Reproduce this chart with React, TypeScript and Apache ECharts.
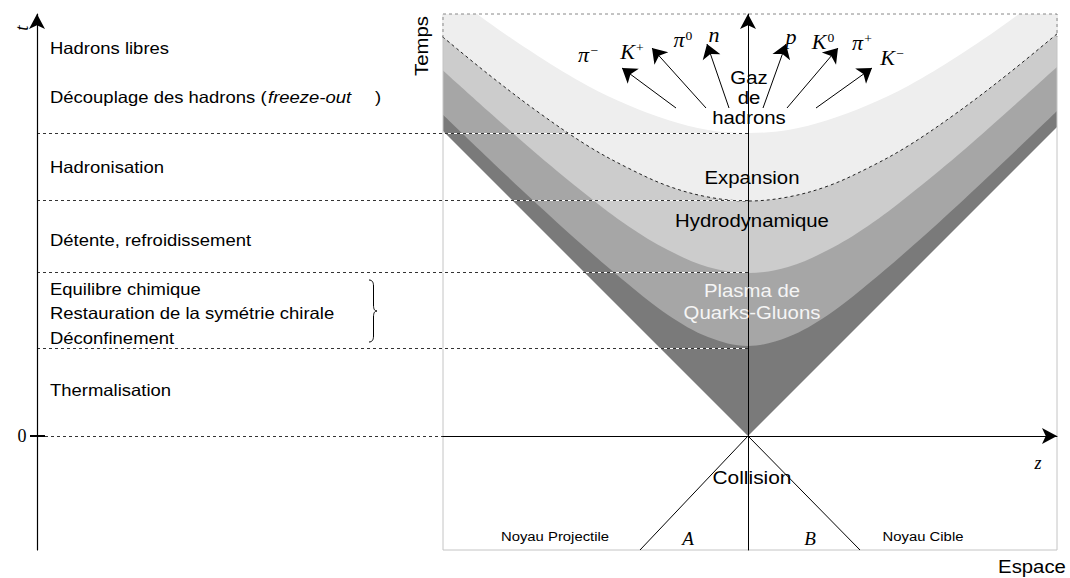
import React, { useEffect, useRef } from "react";
import * as echarts from "echarts";

// ---- data (z: space, t: time; arbitrary units) ----
const zSamples = [-3.1, -2.6, -2.1, -1.6, -1.2, -0.8, -0.4, 0, 0.4, 0.8, 1.2, 1.6, 2.1, 2.6, 3.1];
const tQGP = [3.26, 2.78, 2.31, 1.86, 1.52, 1.21, 0.99, 0.9, 0.99, 1.21, 1.52, 1.86, 2.31, 2.78, 3.26];
const tHydro = [3.7, 3.25, 2.81, 2.4, 2.1, 1.86, 1.69, 1.63, 1.69, 1.86, 2.1, 2.4, 2.81, 3.25, 3.7];
const tExpansion = [4.03, 3.62, 3.24, 2.9, 2.68, 2.5, 2.39, 2.35, 2.39, 2.5, 2.68, 2.9, 3.24, 3.62, 4.03];
const tFreeGas = [4.52, 4.14, 3.8, 3.5, 3.31, 3.16, 3.06, 3.03, 3.06, 3.16, 3.31, 3.5, 3.8, 4.14, 4.52];
const coneZ = [-3.1, 0, 3.1];
const coneT = [3.1, 0, 3.1];
const phaseBoundaries = [3.03, 2.36, 1.64, 0.88];
const nucleusA = [[-1.08, -1.14], [0, 0]];
const nucleusB = [[1.12, -1.14], [0, 0]];
const particleArrows = [
  [[-0.72, 3.28], [-1.26, 3.68]],
  [[-0.42, 3.28], [-0.96, 3.88]],
  [[-0.19, 3.28], [-0.41, 3.92]],
  [[0.15, 3.28], [0.38, 3.92]],
  [[0.39, 3.28], [0.9, 3.88]],
  [[0.68, 3.28], [1.24, 3.68]],
];
// particle symbol and its superscript charge
const particleBase = ["π", "K", "π", "n", "p", "K", "π", "K"];
const particleCharge = ["−", "+", "0", "", "", "0", "+", "−"];
const phaseLabels = [
  "Hadrons libres",
  "Découplage des hadrons",
  "Hadronisation",
  "Détente, refroidissement",
  "Equilibre chimique",
  "Restauration de la symétrie chirale",
  "Déconfinement",
  "Thermalisation",
];
const regionLabels = ["Expansion", "Hydrodynamique", "Plasma de", "Quarks-Gluons", "Collision"];

// ---- axis extents ----
const T_MIN = -1.14;
const T_MAX = 4.22;
const Z_MIN = -3.05;
const Z_MAX = 3.09;
const LEFT_Z_MIN = -7.11;

const SANS = "'Liberation Sans', Arial, Helvetica, sans-serif";
const SERIF = "'Liberation Serif', 'DejaVu Serif', 'Times New Roman', serif";

echarts.graphic.registerShape(
  "brace",
  echarts.graphic.extendPath(
    "M0,0 C3,0 4.5,2 4.5,6 L4.5,25 C4.5,29 5.5,31 8,31 C5.5,31 4.5,33 4.5,37 L4.5,56 C4.5,60 3,62 0,62",
    {}
  )
);

type TO = { sx?: number; rot?: number; color?: string; ff?: string; fs?: number; it?: boolean; align?: string };
const T = (text: string, x: number, y: number, o: TO = {}) => ({
  type: "text",
  x,
  y,
  z: 100,
  silent: true,
  scaleX: o.sx ?? 1.12,
  rotation: o.rot ?? 0,
  style: {
    text,
    fill: o.color ?? "#000",
    fontFamily: o.ff ?? SANS,
    fontSize: o.fs ?? 16.5,
    fontStyle: o.it ? "italic" : "normal",
    align: o.align ?? "left",
    verticalAlign: "middle",
  },
});

const P = (base: string, sup: string, x: number, y: number) => ({
  type: "text",
  x,
  y,
  z: 100,
  silent: true,
  scaleX: 1.05,
  style: {
    text: sup ? `{b|${base}}{s|${sup}}` : `{b|${base}}`,
    align: "center",
    verticalAlign: "middle",
    fill: "#000",
    rich: {
      b: { fontFamily: SERIF, fontStyle: "italic", fontSize: 21, fill: "#000", verticalAlign: "bottom" },
      s: { fontFamily: SERIF, fontSize: 13, fill: "#000", verticalAlign: "top", padding: [0, 0, 0, 1] },
    },
  },
});

export default function App() {
  const ref = useRef<HTMLDivElement>(null);
  useEffect(() => {
    if (!ref.current) return;
    const chart = echarts.init(ref.current, undefined, { renderer: "svg" });

    const fillSeries = (ts: number[], color: string, extra: any = {}) => ({
      type: "line",
      xAxisIndex: 1,
      yAxisIndex: 2,
      data: zSamples.map((z, i) => [z, ts[i]]),
      smooth: 0.35,
      symbol: "none",
      silent: true,
      lineStyle: { width: 0, opacity: 0 },
      areaStyle: { color, opacity: 1, origin: "end" },
      z: 2,
      ...extra,
    });

    const particlePos = [
      [588, 55], [632, 52], [683, 40], [714, 35], [791, 37], [823, 42], [862, 43], [892, 58],
    ];

    const graphics: any[] = [
      T(phaseLabels[0], 50, 48),
      T(phaseLabels[1] + " (", 50, 97),
      T("freeze-out", 268, 97, { it: true }),
      T(")", 375, 97),
      T(phaseLabels[2], 50, 167),
      T(phaseLabels[3], 50, 240),
      T(phaseLabels[4], 50, 289),
      T(phaseLabels[5], 50, 313),
      T(phaseLabels[6], 50, 338),
      T(phaseLabels[7], 50, 390),
      { type: "brace", x: 369, y: 280, z: 100, silent: true, style: { stroke: "#000", fill: null, lineWidth: 1 } },
      T("t", 21, 28, { ff: SERIF, it: true, fs: 19, rot: Math.PI / 2, align: "center", sx: 1 }),
      T("0", 22, 436, { ff: SERIF, fs: 18, align: "center", sx: 1 }),
      T("Temps", 421, 46, { fs: 18.5, rot: Math.PI / 2, align: "center", sx: 1.1 }),
      T("Gaz", 749, 77, { fs: 18.5, align: "center", sx: 1.1 }),
      T("de", 749, 97, { fs: 18.5, align: "center", sx: 1.1 }),
      T("hadrons", 749, 117, { fs: 18.5, align: "center", sx: 1.1 }),
      T(regionLabels[0], 752, 177, { fs: 18.5, align: "center", sx: 1.1 }),
      T(regionLabels[1], 752, 220, { fs: 18.5, align: "center", sx: 1.1 }),
      T(regionLabels[2], 752, 290, { fs: 18.5, align: "center", sx: 1.1, color: "#f5f5f5" }),
      T(regionLabels[3], 752, 312, { fs: 18.5, align: "center", sx: 1.1, color: "#f5f5f5" }),
      T(regionLabels[4], 752, 477, { fs: 19, align: "center", sx: 1.1 }),
      T("Noyau Projectile", 555, 536, { fs: 13.5, align: "center", sx: 1.1 }),
      T("Noyau Cible", 923, 536, { fs: 13.5, align: "center", sx: 1.1 }),
      T("A", 688, 538, { ff: SERIF, it: true, fs: 19, align: "center", sx: 1 }),
      T("B", 810, 538, { ff: SERIF, it: true, fs: 19, align: "center", sx: 1 }),
      T("z", 1038, 463, { ff: SERIF, it: true, fs: 18, align: "center", sx: 1 }),
      T("Espace", 1032, 566, { fs: 18.5, align: "center", sx: 1.1 }),
      ...particleBase.map((b, i) => P(b, particleCharge[i], particlePos[i][0], particlePos[i][1])),
    ];

    const option: any = {
      animation: false,
      backgroundColor: "#fff",
      grid: [
        { left: 37, right: 322, top: 14, bottom: 28 },
        { left: 443, right: 13, top: 14, bottom: 28 },
      ],
      xAxis: [
        { type: "value", gridIndex: 0, min: LEFT_Z_MIN, max: 0, show: false },
        {
          type: "value",
          gridIndex: 1,
          min: Z_MIN,
          max: Z_MAX,
          z: 10,
          axisLine: {
            show: true,
            onZero: true,
            symbol: ["none", "arrow"],
            symbolSize: [12, 15],
            lineStyle: { color: "#000", width: 1 },
          },
          axisTick: { show: false },
          axisLabel: { show: false },
          splitLine: { show: false },
        },
      ],
      yAxis: [
        {
          type: "value",
          gridIndex: 0,
          min: T_MIN,
          max: T_MAX,
          position: "left",
          z: 10,
          axisLine: {
            show: true,
            onZero: false,
            symbol: ["none", "arrow"],
            symbolSize: [12, 15],
            lineStyle: { color: "#000", width: 1.2 },
          },
          axisTick: { show: true, customValues: [0], length: 7, lineStyle: { color: "#000", width: 2 } },
          axisLabel: { show: false },
          splitLine: { show: false },
        },
        {
          type: "value",
          gridIndex: 0,
          min: T_MIN,
          max: T_MAX,
          position: "left",
          z: 10,
          axisLine: { show: false, onZero: false },
          axisTick: { show: true, inside: true, customValues: [0], length: 8, lineStyle: { color: "#000", width: 2 } },
          axisLabel: { show: false },
          splitLine: { show: false },
        },
        {
          type: "value",
          gridIndex: 1,
          min: T_MIN,
          max: T_MAX,
          z: 10,
          axisLine: {
            show: true,
            onZero: true,
            symbol: ["none", "arrow"],
            symbolSize: [12, 15],
            lineStyle: { color: "#000", width: 1 },
          },
          axisTick: { show: false },
          axisLabel: { show: false },
          splitLine: { show: false },
        },
      ],
      series: [
        {
          type: "line",
          xAxisIndex: 1,
          yAxisIndex: 2,
          data: coneZ.map((z, i) => [z, coneT[i]]),
          symbol: "none",
          silent: true,
          lineStyle: { width: 0, opacity: 0 },
          areaStyle: { color: "#7a7a7a", opacity: 1, origin: "end" },
          z: 2,
        },
        fillSeries(tQGP, "#a6a6a6"),
        fillSeries(tHydro, "#cccccc"),
        fillSeries(tExpansion, "#eeeeee", {
          lineStyle: { width: 1, color: "#222", type: [3, 3], opacity: 1 },
        }),
        fillSeries(tFreeGas, "#ffffff"),
        // box outline
        {
          type: "line",
          xAxisIndex: 1,
          yAxisIndex: 2,
          data: [[Z_MIN, tExpansion[0] - 0.05], [Z_MIN, T_MIN], [Z_MAX, T_MIN], [Z_MAX, tExpansion[14] - 0.04]],
          symbol: "none",
          silent: true,
          clip: false,
          lineStyle: { color: "#c4c4c4", width: 1 },
          z: 3,
        },
        {
          type: "line",
          xAxisIndex: 1,
          yAxisIndex: 2,
          data: [[Z_MIN, tExpansion[0] - 0.05], [Z_MIN, T_MAX], [Z_MAX, T_MAX], [Z_MAX, tExpansion[14] - 0.04]],
          symbol: "none",
          silent: true,
          clip: false,
          lineStyle: { color: "#888", width: 1, type: [3, 3] },
          z: 3,
        },
        // nuclei trajectories
        {
          type: "line",
          xAxisIndex: 1,
          yAxisIndex: 2,
          data: nucleusA,
          symbol: "none",
          silent: true,
          lineStyle: { color: "#000", width: 1 },
          z: 4,
        },
        {
          type: "line",
          xAxisIndex: 1,
          yAxisIndex: 2,
          data: nucleusB,
          symbol: "none",
          silent: true,
          lineStyle: { color: "#000", width: 1 },
          z: 4,
        },
        // particle arrows
        {
          type: "lines",
          coordinateSystem: "cartesian2d",
          xAxisIndex: 1,
          yAxisIndex: 2,
          symbol: ["none", "arrow"],
          symbolSize: 14,
          silent: true,
          lineStyle: { color: "#000", width: 1, opacity: 1 },
          data: particleArrows.map((c) => ({ coords: c })),
          z: 5,
        },
        // white underlay of phase lines inside diagram
        {
          type: "lines",
          coordinateSystem: "cartesian2d",
          xAxisIndex: 0,
          yAxisIndex: 0,
          silent: true,
          lineStyle: { color: "#fff", width: 1, opacity: 1 },
          data: phaseBoundaries.map((t) => ({ coords: [[Z_MIN, t], [0, t]] })),
          z: 5,
        },
        // dashed phase lines
        {
          type: "lines",
          coordinateSystem: "cartesian2d",
          xAxisIndex: 0,
          yAxisIndex: 0,
          silent: true,
          lineStyle: { color: "#333", width: 1, type: [3, 3], opacity: 1 },
          data: [
            ...phaseBoundaries.map((t) => ({ coords: [[LEFT_Z_MIN, t], [0, t]] })),
            { coords: [[-7.03, 0], [Z_MIN, 0]] },
          ],
          z: 6,
        },
      ],
      graphic: graphics,
    };
    chart.setOption(option);
    return () => chart.dispose();
  }, []);
  return (
    <div
      ref={ref}
      style={{ position: "absolute", left: 0, top: 0, width: 1070, height: 578 }}
    />
  );
}
